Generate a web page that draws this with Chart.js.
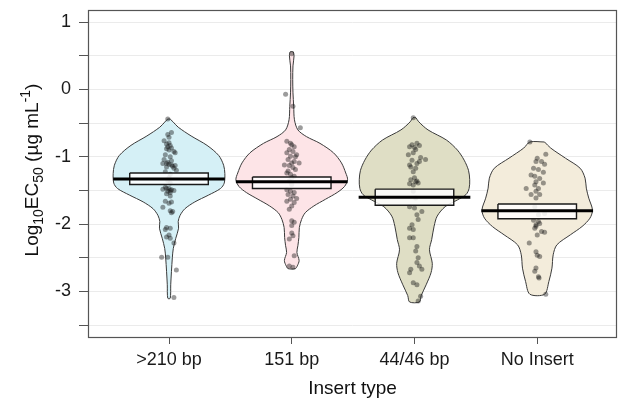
<!DOCTYPE html>
<html>
<head>
<meta charset="utf-8">
<script src="https://cdn.jsdelivr.net/npm/chart.js@4.4.0/dist/chart.umd.min.js"></script>
<style>
    html, body { margin: 0; padding: 0; background: #fff; }
</style>
</head>
<body>
<canvas id="violinChart" width="621" height="404"></canvas>
<script>
const categories = [">210 bp", "151 bp", "44/46 bp", "No Insert"];
const yTicks = [-3.5, -3, -2.5, -2, -1.5, -1, -0.5, 0, 0.5, 1];

// violin outlines: log10 EC50 levels (top to bottom) and half widths in category units
const levels210 = [-0.44, -0.485, -0.56, -0.69, -0.83, -0.98, -1.125, -1.25, -1.39, -1.47, -1.57, -1.67, -1.77, -1.87, -1.96, -2.06, -2.21, -2.36, -2.50, -2.70, -2.90, -3.10];
const widths210 = [0.01, 0.035, 0.075, 0.18, 0.31, 0.405, 0.445, 0.455, 0.45, 0.42, 0.32, 0.21, 0.13, 0.09, 0.075, 0.078, 0.055, 0.035, 0.027, 0.02, 0.014, 0.01];

const levels151 = [0.56, 0.50, 0.35, 0.15, -0.05, -0.25, -0.45, -0.60, -0.70, -0.80, -0.94, -1.09, -1.24, -1.34, -1.44, -1.53, -1.63, -1.73, -1.83, -1.93, -2.05, -2.20, -2.32, -2.42, -2.54, -2.62, -2.66];
const widths151 = [0.012, 0.019, 0.01, 0.008, 0.01, 0.016, 0.022, 0.05, 0.12, 0.23, 0.34, 0.405, 0.44, 0.455, 0.43, 0.37, 0.275, 0.18, 0.11, 0.08, 0.062, 0.058, 0.05, 0.042, 0.06, 0.045, 0.03];

const levels44 = [-0.42, -0.48, -0.60, -0.75, -0.90, -1.05, -1.20, -1.34, -1.47, -1.56, -1.64, -1.74, -1.88, -2.03, -2.23, -2.38, -2.58, -2.72, -2.90, -3.06, -3.155];
const widths44 = [0.012, 0.035, 0.11, 0.26, 0.35, 0.405, 0.44, 0.45, 0.445, 0.42, 0.35, 0.25, 0.185, 0.16, 0.14, 0.122, 0.145, 0.135, 0.095, 0.055, 0.04];

const levelsNone = [-0.78, -0.87, -1.02, -1.17, -1.317, -1.465, -1.614, -1.787, -1.91, -2.035, -2.158, -2.307, -2.455, -2.653, -2.85, -3.04];
const widthsNone = [0.06, 0.11, 0.23, 0.35, 0.39, 0.40, 0.42, 0.45, 0.43, 0.365, 0.27, 0.16, 0.13, 0.12, 0.095, 0.06];

// group means and box limits
const means = [-1.33, -1.37, -1.60, -1.80];
const boxLow = [-1.41, -1.47, -1.72, -1.92];
const boxHigh = [-1.24, -1.30, -1.48, -1.70];

// isolates: [jitter offset, log10 EC50]
const points210 = [
    [-0.01, -0.44], [0.02, -0.64], [-0.01, -0.67], [0.0, -0.71], [-0.04, -0.76], [0.0, -0.79], [-0.02, -0.81],
    [0.01, -0.83], [-0.01, -0.85], [0.02, -0.87], [-0.02, -0.88], [0.0, -0.9], [0.04, -0.92], [0.05, -0.94],
    [-0.03, -0.97], [0.01, -1.0], [-0.04, -1.04], [0.02, -1.06], [-0.01, -1.08], [-0.05, -1.1], [-0.02, -1.1],
    [0.0, -1.11], [0.02, -1.12], [0.05, -1.13], [0.03, -1.14], [-0.02, -1.15], [0.04, -1.17], [0.06, -1.2],
    [-0.03, -1.22], [0.01, -1.26], [0.0, -1.31], [-0.01, -1.35], [0.01, -1.39], [-0.03, -1.45], [0.0, -1.47],
    [-0.02, -1.47], [-0.05, -1.48], [0.02, -1.49], [0.04, -1.5], [0.01, -1.5], [-0.01, -1.51], [0.01, -1.53],
    [-0.02, -1.55], [0.01, -1.58], [-0.03, -1.66], [0.02, -1.67], [0.0, -1.69], [-0.05, -1.75], [0.01, -1.8],
    [0.03, -1.81], [0.02, -1.83], [-0.02, -2.05], [0.01, -2.06], [-0.03, -2.08], [0.0, -2.16], [-0.02, -2.19],
    [0.01, -2.21], [0.04, -2.28], [-0.06, -2.49], [-0.01, -2.49], [0.06, -2.68], [0.04, -3.09]
];
const points151 = [
    [0.0, 0.53], [-0.05, -0.07], [0.01, -0.25], [0.07, -0.57], [-0.04, -0.77], [-0.01, -0.8], [0.0, -0.82],
    [0.02, -0.85], [-0.02, -0.89], [0.01, -0.92], [-0.04, -0.94], [0.04, -0.97], [-0.01, -0.99], [0.03, -1.0],
    [-0.03, -1.04], [0.02, -1.07], [0.0, -1.09], [0.06, -1.09], [-0.06, -1.12], [-0.02, -1.13], [0.01, -1.16],
    [0.03, -1.19], [-0.03, -1.21], [-0.04, -1.24], [-0.01, -1.26], [0.02, -1.29], [0.0, -1.31], [-0.02, -1.36],
    [0.0, -1.41], [-0.04, -1.49], [-0.01, -1.51], [0.02, -1.53], [-0.03, -1.56], [0.01, -1.58], [0.04, -1.62],
    [-0.01, -1.63], [-0.04, -1.66], [0.02, -1.68], [0.0, -1.73], [-0.02, -1.78], [0.0, -1.95], [0.02, -1.97],
    [0.0, -2.02], [0.0, -2.13], [0.01, -2.17], [-0.02, -2.22], [0.02, -2.47], [-0.02, -2.62], [0.01, -2.64]
];
const points44 = [
    [-0.01, -0.42], [0.02, -0.80], [-0.02, -0.82], [0.04, -0.83], [-0.04, -0.85], [0.0, -0.86], [0.01, -0.89],
    [-0.01, -0.94], [-0.05, -0.97], [0.05, -1.01], [0.09, -1.04], [-0.02, -1.05], [0.04, -1.07], [0.02, -1.1],
    [-0.04, -1.12], [-0.03, -1.15], [0.01, -1.17], [-0.01, -1.22], [0.0, -1.31], [-0.03, -1.34], [0.02, -1.36],
    [0.01, -1.37], [0.03, -1.39], [-0.04, -1.40], [-0.01, -1.42], [-0.01, -1.51], [0.01, -1.61], [-0.04, -1.74],
    [0.0, -1.76], [0.06, -1.81], [0.02, -1.86], [0.03, -1.93], [-0.02, -2.01], [-0.04, -2.06], [-0.01, -2.08],
    [-0.04, -2.2], [-0.01, -2.2], [0.02, -2.33], [0.01, -2.4], [0.03, -2.5], [0.02, -2.57], [0.04, -2.62],
    [0.06, -2.67], [-0.03, -2.67], [-0.04, -2.72], [-0.01, -2.87], [0.02, -2.9], [0.05, -3.07], [0.03, -3.14]
];
const pointsNone = [
    [-0.06, -0.78], [0.07, -0.96], [0.0, -1.02], [-0.01, -1.07], [0.035, -1.07], [0.06, -1.11], [-0.03, -1.17],
    [0.01, -1.19], [0.05, -1.23], [-0.05, -1.27], [-0.02, -1.29], [0.02, -1.32], [-0.01, -1.37], [0.05, -1.39],
    [-0.02, -1.42], [-0.09, -1.47], [0.01, -1.47], [-0.01, -1.51], [0.02, -1.56], [-0.05, -1.56], [-0.01, -1.61],
    [-0.02, -1.74], [0.06, -1.84], [0.01, -1.86], [-0.03, -1.94], [0.01, -1.96], [0.02, -1.99], [-0.01, -2.01],
    [-0.01, -2.03], [-0.02, -2.06], [0.035, -2.11], [0.06, -2.12], [0.0, -2.16], [-0.065, -2.28], [-0.01, -2.41],
    [0.0, -2.46], [0.02, -2.48], [-0.01, -2.65], [-0.02, -2.7], [0.01, -2.78], [0.015, -2.8], [0.07, -3.04]
];

const violinLevels = [levels210, levels151, levels44, levelsNone];
const violinWidths = [widths210, widths151, widths44, widthsNone];
const groupPoints = [points210, points151, points44, pointsNone];
const fillColors = ["#d5f0f6", "#fde4e7", "#dfdec5", "#f3ecdb"];

const BOX_HALF = 0.32;
const MEAN_HALF = 0.455;

// closed outline: right side going down, left side coming back up
function violinOutline(center, levels, widths) {
    const pts = [];
    for (let i = 0; i < levels.length; i++) {
        pts.push({ x: center + widths[i], y: levels[i] });
    }
    for (let i = levels.length - 1; i >= 0; i--) {
        pts.push({ x: center - widths[i], y: levels[i] });
    }
    pts.push(pts[0]);
    return pts;
}

const layers = []; // in drawing order, bottom first

categories.forEach((cat, i) => {
    const c = i + 1;
    layers.push({
        label: cat + " violin",
        data: violinOutline(c, violinLevels[i], violinWidths[i]),
        showLine: true,
        fill: "shape",
        backgroundColor: fillColors[i],
        borderColor: "#3a3a3a",
        borderWidth: 1,
        tension: 0.3,
        pointRadius: 0
    });
});

categories.forEach((cat, i) => {
    const c = i + 1;
    layers.push({
        label: cat + " isolates",
        data: groupPoints[i].map(p => ({ x: c + p[0], y: p[1] })),
        showLine: false,
        pointRadius: 2.5,
        pointBorderWidth: 0,
        backgroundColor: "rgba(20,20,20,0.42)",
        borderColor: "rgba(0,0,0,0)"
    });
});

categories.forEach((cat, i) => {
    const c = i + 1;
    layers.push({
        label: cat + " box",
        data: [
            { x: c - BOX_HALF, y: boxHigh[i] },
            { x: c + BOX_HALF, y: boxHigh[i] },
            { x: c + BOX_HALF, y: boxLow[i] },
            { x: c - BOX_HALF, y: boxLow[i] },
            { x: c - BOX_HALF, y: boxHigh[i] }
        ],
        showLine: true,
        fill: "shape",
        backgroundColor: "rgba(255,255,255,0.85)",
        borderColor: "#1a1a1a",
        borderWidth: 1.4,
        tension: 0,
        pointRadius: 0
    });
});

categories.forEach((cat, i) => {
    const c = i + 1;
    layers.push({
        label: cat + " mean",
        data: [{ x: c - MEAN_HALF, y: means[i] }, { x: c + MEAN_HALF, y: means[i] }],
        showLine: true,
        fill: false,
        borderColor: "#000",
        borderWidth: 3,
        pointRadius: 0
    });
});

// chart.js draws index 0 last, so flip
const datasets = layers.reverse();

const panelBorder = {
    id: "panelBorder",
    afterDatasetsDraw(chart) {
        const { ctx, chartArea: a } = chart;
        ctx.save();
        ctx.strokeStyle = "#555";
        ctx.lineWidth = 1.2;
        ctx.strokeRect(a.left + 0.5, a.top + 0.5, a.right - a.left - 1, a.bottom - a.top - 1);
        ctx.restore();
    }
};

// y title with sub/superscripts
const yTitle = {
    id: "yTitle",
    afterDraw(chart) {
        const ctx = chart.ctx;
        const parts = [
            { t: "Log", size: 19, shift: 0 },
            { t: "10", size: 14, shift: 5 },
            { t: "EC", size: 19, shift: 0 },
            { t: "50", size: 14, shift: 5 },
            { t: " (\u00b5g mL", size: 19, shift: 0 },
            { t: "-1", size: 14, shift: -8 },
            { t: ")", size: 19, shift: 0 }
        ];
        ctx.save();
        let total = 0;
        parts.forEach(p => {
            ctx.font = p.size + "px 'Liberation Sans', Arial, sans-serif";
            p.w = ctx.measureText(p.t).width;
            total += p.w;
        });
        ctx.translate(38, 170);
        ctx.rotate(-Math.PI / 2);
        ctx.fillStyle = "#111";
        ctx.textBaseline = "alphabetic";
        let x = -total / 2;
        parts.forEach(p => {
            ctx.font = p.size + "px 'Liberation Sans', Arial, sans-serif";
            ctx.fillText(p.t, x, p.shift);
            x += p.w;
        });
        ctx.restore();
    }
};

const ctx = document.getElementById("violinChart").getContext("2d");
new Chart(ctx, {
    type: "scatter",
    data: { datasets: datasets },
    options: {
        responsive: false,
        animation: false,
        devicePixelRatio: 1,
        layout: { padding: { left: 0, top: 10, right: 2, bottom: 0 } },
        plugins: {
            legend: { display: false },
            tooltip: { enabled: false }
        },
        scales: {
            x: {
                type: "linear",
                min: 0.34,
                max: 4.65,
                afterBuildTicks: axis => {
                    axis.ticks = categories.map((c, i) => ({ value: i + 1 }));
                },
                afterFit: axis => {
                    axis.height = 66;
                    axis.paddingLeft = 0;
                    axis.paddingRight = 0;
                },
                ticks: {
                    callback: v => categories[v - 1],
                    color: "#1a1a1a",
                    font: { family: "'Liberation Sans', Arial, sans-serif", size: 18 },
                    padding: 5,
                    maxRotation: 0,
                    autoSkip: false
                },
                grid: {
                    drawOnChartArea: false,
                    drawTicks: true,
                    tickLength: 6,
                    tickColor: "#555"
                },
                border: { display: false },
                title: {
                    display: true,
                    text: "Insert type",
                    color: "#111",
                    font: { family: "'Liberation Sans', Arial, sans-serif", size: 19 },
                    padding: { top: 0, bottom: 4 }
                }
            },
            y: {
                type: "linear",
                min: -3.69,
                max: 1.18,
                afterBuildTicks: axis => {
                    axis.ticks = yTicks.map(v => ({ value: v }));
                },
                afterFit: axis => {
                    axis.width = 88;
                    axis.paddingTop = 0;
                    axis.paddingBottom = 0;
                },
                ticks: {
                    callback: v => Number.isInteger(v) ? String(v) : "",
                    color: "#1a1a1a",
                    font: { family: "'Liberation Sans', Arial, sans-serif", size: 18 },
                    padding: 8,
                    autoSkip: false
                },
                grid: {
                    color: "#ebebeb",
                    lineWidth: 1,
                    drawTicks: true,
                    tickLength: 9,
                    tickColor: "#555"
                },
                border: { display: false }
            }
        }
    },
    plugins: [panelBorder, yTitle]
});
</script>
</body>
</html>
